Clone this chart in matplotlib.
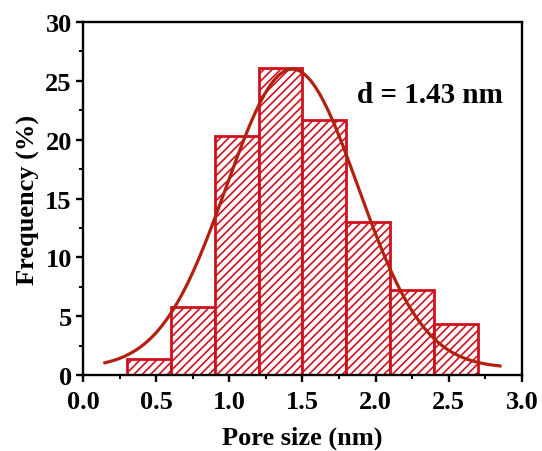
import numpy as np
import matplotlib.pyplot as plt
from matplotlib.ticker import MultipleLocator

plt.rcParams['font.family'] = ['Liberation Serif', 'DejaVu Serif']
plt.rcParams['font.weight'] = 'bold'
plt.rcParams['hatch.linewidth'] = 1.2

# histogram bins (nm) and frequencies (%)
bin_left = [0.3, 0.6, 0.9, 1.2, 1.5, 1.8, 2.1, 2.4]
bin_width = 0.3
freq = [1.4, 5.8, 20.3, 26.1, 21.7, 13.0, 7.2, 4.3]

# gaussian fit: y0 + A*exp(-(x-xc)^2 / (2 w^2))
fit_xc = 1.43
fit_w = 0.45
fit_A = 25.4
fit_y0 = 0.6
fit_range = (0.15, 2.85)

bar_col = '#d0101c'
fit_col = '#b0220f'

fig = plt.figure(figsize=(5.42, 4.52), dpi=100)
ax = fig.add_axes([0.153, 0.168, 0.810, 0.781])

ax.bar(bin_left, freq, width=bin_width, align='edge', facecolor='white',
       edgecolor=bar_col, linewidth=2.0, hatch='////', zorder=2)

xs = np.linspace(fit_range[0], fit_range[1], 300)
ys = fit_y0 + fit_A * np.exp(-(xs - fit_xc) ** 2 / (2 * fit_w ** 2))
ax.plot(xs, ys, color=fit_col, linewidth=2.3, zorder=3)

ax.text(1.87, 23.85, 'd = %.2f nm' % fit_xc, fontsize=21, fontweight='bold',
        va='center', ha='left')

ax.set_xlim(0, 3.0)
ax.set_ylim(0, 30)
ax.xaxis.set_major_locator(MultipleLocator(0.5))
ax.xaxis.set_minor_locator(MultipleLocator(0.25))
ax.yaxis.set_major_locator(MultipleLocator(5))
ax.yaxis.set_minor_locator(MultipleLocator(2.5))
ax.xaxis.set_major_formatter(plt.FormatStrFormatter('%.1f'))

for s in ax.spines.values():
    s.set_linewidth(1.7)
ax.tick_params(which='major', direction='out', length=5, width=1.7,
               labelsize=19)
ax.tick_params(axis='x', which='major', pad=6)
ax.tick_params(axis='y', which='major', pad=3)
ax.tick_params(which='minor', direction='out', length=3, width=1.4)

ax.set_xlabel('Pore size (nm)', fontsize=19, fontweight='bold', labelpad=9)
ax.set_ylabel('Frequency (%)', fontsize=19, fontweight='bold', labelpad=4)

fig.savefig('out.png', dpi=100)
